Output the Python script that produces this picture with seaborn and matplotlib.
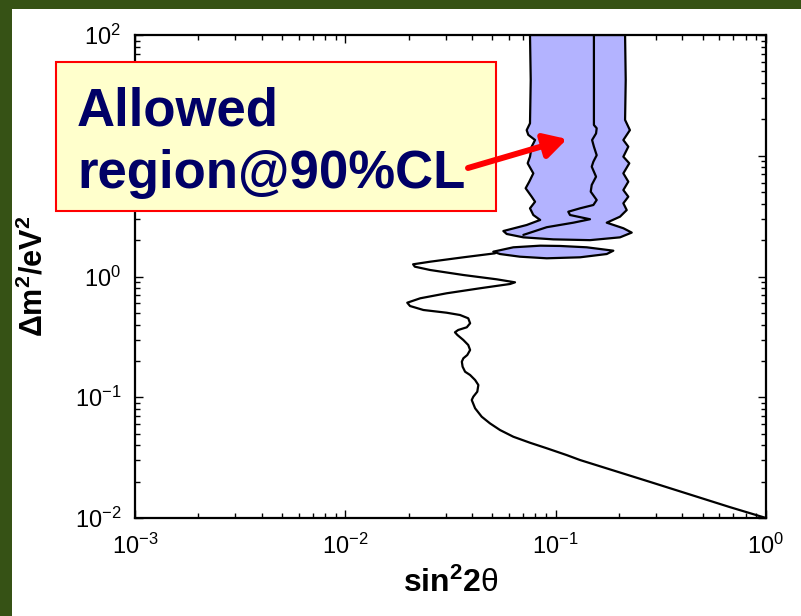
import matplotlib
matplotlib.use("Agg")
import matplotlib.pyplot as plt
import seaborn as sns
from matplotlib.patches import Rectangle, FancyArrowPatch
from matplotlib.ticker import LogLocator, NullFormatter

# 90% CL exclusion contour, from full mixing at low dm2 up to the allowed region
excl_sin2 = [1.0, 0.674, 0.281, 0.1306, 0.1128, 0.0907, 0.0755, 0.0629, 0.0544,
             0.0487, 0.0445, 0.0414, 0.0399, 0.0406, 0.0424, 0.0429, 0.0414, 0.0392,
             0.0371, 0.0361, 0.0358, 0.0364, 0.0380, 0.0392, 0.0384, 0.0364, 0.0341,
             0.0332, 0.0344, 0.0378, 0.0392, 0.0384, 0.0351, 0.0303, 0.0235, 0.0203,
             0.0197, 0.0227, 0.0303, 0.0437, 0.0607, 0.0641, 0.0524, 0.0364, 0.0253,
             0.0214, 0.0210, 0.0253, 0.0364, 0.0515]
excl_dm2 = [0.0100, 0.0123, 0.0199, 0.0302, 0.0332, 0.0378, 0.0420, 0.0471, 0.0535,
            0.0608, 0.0690, 0.0810, 0.0949, 0.1011, 0.1112, 0.1263, 0.1389, 0.1528,
            0.1627, 0.1791, 0.1970, 0.2102, 0.2238, 0.2462, 0.2708, 0.2979, 0.3278,
            0.3451, 0.3606, 0.3797, 0.4098, 0.4507, 0.4799, 0.5013, 0.528, 0.5698,
            0.6067, 0.660, 0.726, 0.799, 0.867, 0.895, 0.948, 1.029, 1.132,
            1.206, 1.262, 1.326, 1.442, 1.556]

# allowed band at high dm2 (closed outline: left edge down, right edge up)
band_sin2 = [0.0755, 0.0761, 0.0755, 0.0728, 0.0741, 0.0798, 0.0769, 0.0755, 0.0736,
             0.0783, 0.0749, 0.0720, 0.0769, 0.0798, 0.0755, 0.0783, 0.0844, 0.0728,
             0.0564, 0.0585, 0.0702, 0.0974, 0.1456, 0.2023, 0.2299, 0.2098, 0.1749,
             0.2023, 0.2177, 0.2098, 0.2215, 0.2098, 0.2215, 0.2098, 0.2239, 0.2098,
             0.2215, 0.2098, 0.2254, 0.2138, 0.2153, 0.2138]
band_dm2 = [100, 42.4, 18.56, 16.3, 14.9, 13.5, 11.89, 9.82, 8.66,
            7.15, 6.10, 5.38, 4.58, 4.16, 3.67, 3.23, 2.94, 2.67,
            2.38, 2.25, 2.11, 2.03, 2.00, 2.11, 2.31, 2.51, 2.79,
            3.13, 3.55, 4.04, 4.58, 5.20, 6.10, 7.15, 8.66, 9.82,
            11.89, 13.5, 16.3, 19.8, 42.4, 100]

# lower island of the allowed region
island_sin2 = [0.0505, 0.0629, 0.0844, 0.105, 0.1405, 0.188, 0.1749, 0.1306,
               0.0907, 0.0676, 0.0544, 0.0505]
island_dm2 = [1.605, 1.745, 1.80, 1.79, 1.745, 1.636, 1.535, 1.442,
              1.415, 1.459, 1.535, 1.605]

# inner contour running down through the band
inner_sin2 = [0.152, 0.152, 0.1567, 0.1556, 0.149, 0.152, 0.1567, 0.1511, 0.1484,
              0.1556, 0.1484, 0.1468, 0.1567, 0.1511, 0.1306, 0.1148, 0.117, 0.1456,
              0.1213, 0.0907, 0.0702]
inner_dm2 = [100, 17.98, 16.9, 15.3, 13.5, 11.89, 10.1, 8.93, 8.12,
             6.71, 5.73, 5.04, 4.30, 3.91, 3.67, 3.44, 3.23, 2.98,
             2.79, 2.56, 2.21]

x_ticks = [1e-3, 1e-2, 1e-1, 1e0]
x_tick_labels = [r"$10^{-3}$", r"$10^{-2}$", r"$10^{-1}$", r"$10^{0}$"]
y_ticks = [1e-2, 1e-1, 1e0, 1e1, 1e2]
y_tick_labels = [r"$10^{-2}$", r"$10^{-1}$", r"$10^{0}$", "", r"$10^{2}$"]

x_label = r"$\mathbf{sin^{2}2}\mathrm{\theta}$"
y_label = r"$\mathbf{\Delta m^{2}/eV^{2}}$"
note_lines = ["Allowed", "region@90%CL"]

sns.set_style("ticks")
plt.rcParams.update({
    "font.family": ["Liberation Sans", "DejaVu Sans"],
    "mathtext.fontset": "custom",
    "mathtext.rm": "Liberation Sans",
    "mathtext.it": "Liberation Sans:italic",
    "mathtext.bf": "Liberation Sans:bold",
})

W, H = 801, 616
fig = plt.figure(figsize=(W / 100, H / 100), dpi=100)
fig.patch.set_facecolor("white")
ax = fig.add_axes([135 / W, 1 - 518 / H, (766 - 135) / W, (518 - 35) / H])

fill_col = "#B3B3FF"
ax.fill(band_sin2, band_dm2, facecolor=fill_col, edgecolor="black", lw=1.6,
        joinstyle="round", zorder=2)
ax.fill(island_sin2, island_dm2, facecolor=fill_col, edgecolor="black", lw=1.6,
        joinstyle="round", zorder=2)
sns.lineplot(x=excl_sin2, y=excl_dm2, sort=False, estimator=None, color="black",
             lw=1.6, ax=ax, zorder=3)
sns.lineplot(x=inner_sin2, y=inner_dm2, sort=False, estimator=None, color="black",
             lw=1.6, ax=ax, zorder=3)
for ln in ax.lines:
    ln.set_solid_joinstyle("round")

ax.set_xscale("log")
ax.set_yscale("log")
ax.set_xlim(1e-3, 1e0)
ax.set_ylim(1e-2, 1e2)
ax.set_xticks(x_ticks, x_tick_labels)
ax.set_yticks(y_ticks, y_tick_labels)
for axis in (ax.xaxis, ax.yaxis):
    axis.set_minor_locator(LogLocator(base=10, subs=range(2, 10), numticks=20))
    axis.set_minor_formatter(NullFormatter())
ax.tick_params(which="both", direction="in", top=True, right=True, color="black",
               width=1.0, labelsize=17, labelcolor="black")
ax.tick_params(which="major", length=6)
ax.tick_params(which="minor", length=3.5)
ax.tick_params(axis="x", pad=11)
ax.tick_params(axis="y", pad=10)
for sp in ax.spines.values():
    sp.set_linewidth(1.6)
    sp.set_color("black")

ax.set_xlabel(x_label, fontsize=23, labelpad=7, color="black")
ax.set_ylabel(y_label, fontsize=22, color="black")
ax.yaxis.set_label_coords(-0.135, 0.5)

# dark green frame along the top and left edges
green = "#365215"
fig.add_artist(Rectangle((0, 1 - 9 / H), 1, 9 / H, transform=fig.transFigure,
                         facecolor=green, edgecolor="none", zorder=-1))
fig.add_artist(Rectangle((0, 0), 12 / W, 1, transform=fig.transFigure,
                         facecolor=green, edgecolor="none", zorder=-1))

# annotation box
fig.add_artist(Rectangle((56 / W, 1 - 211 / H), 440 / W, 149 / H,
                         transform=fig.transFigure, facecolor="#FFFFCC",
                         edgecolor="#FF0000", lw=1.5, zorder=5))
fig.text(77 / W, 1 - 125 / H, note_lines[0], fontsize=38, weight="bold",
         color="#000066", ha="left", va="baseline", zorder=6)
fig.text(77 / W, 1 - 188 / H, note_lines[1], fontsize=38, weight="bold",
         color="#000066", ha="left", va="baseline", zorder=6)
fig.add_artist(FancyArrowPatch((468 / W, 1 - 168 / H), (567 / W, 1 - 139 / H),
                               transform=fig.transFigure,
                               arrowstyle="-|>,head_length=0.45,head_width=0.25",
                               mutation_scale=30, color="#FF0000", lw=4.3,
                               shrinkA=0, shrinkB=0, zorder=7))

fig.savefig("out.png", dpi=100)
